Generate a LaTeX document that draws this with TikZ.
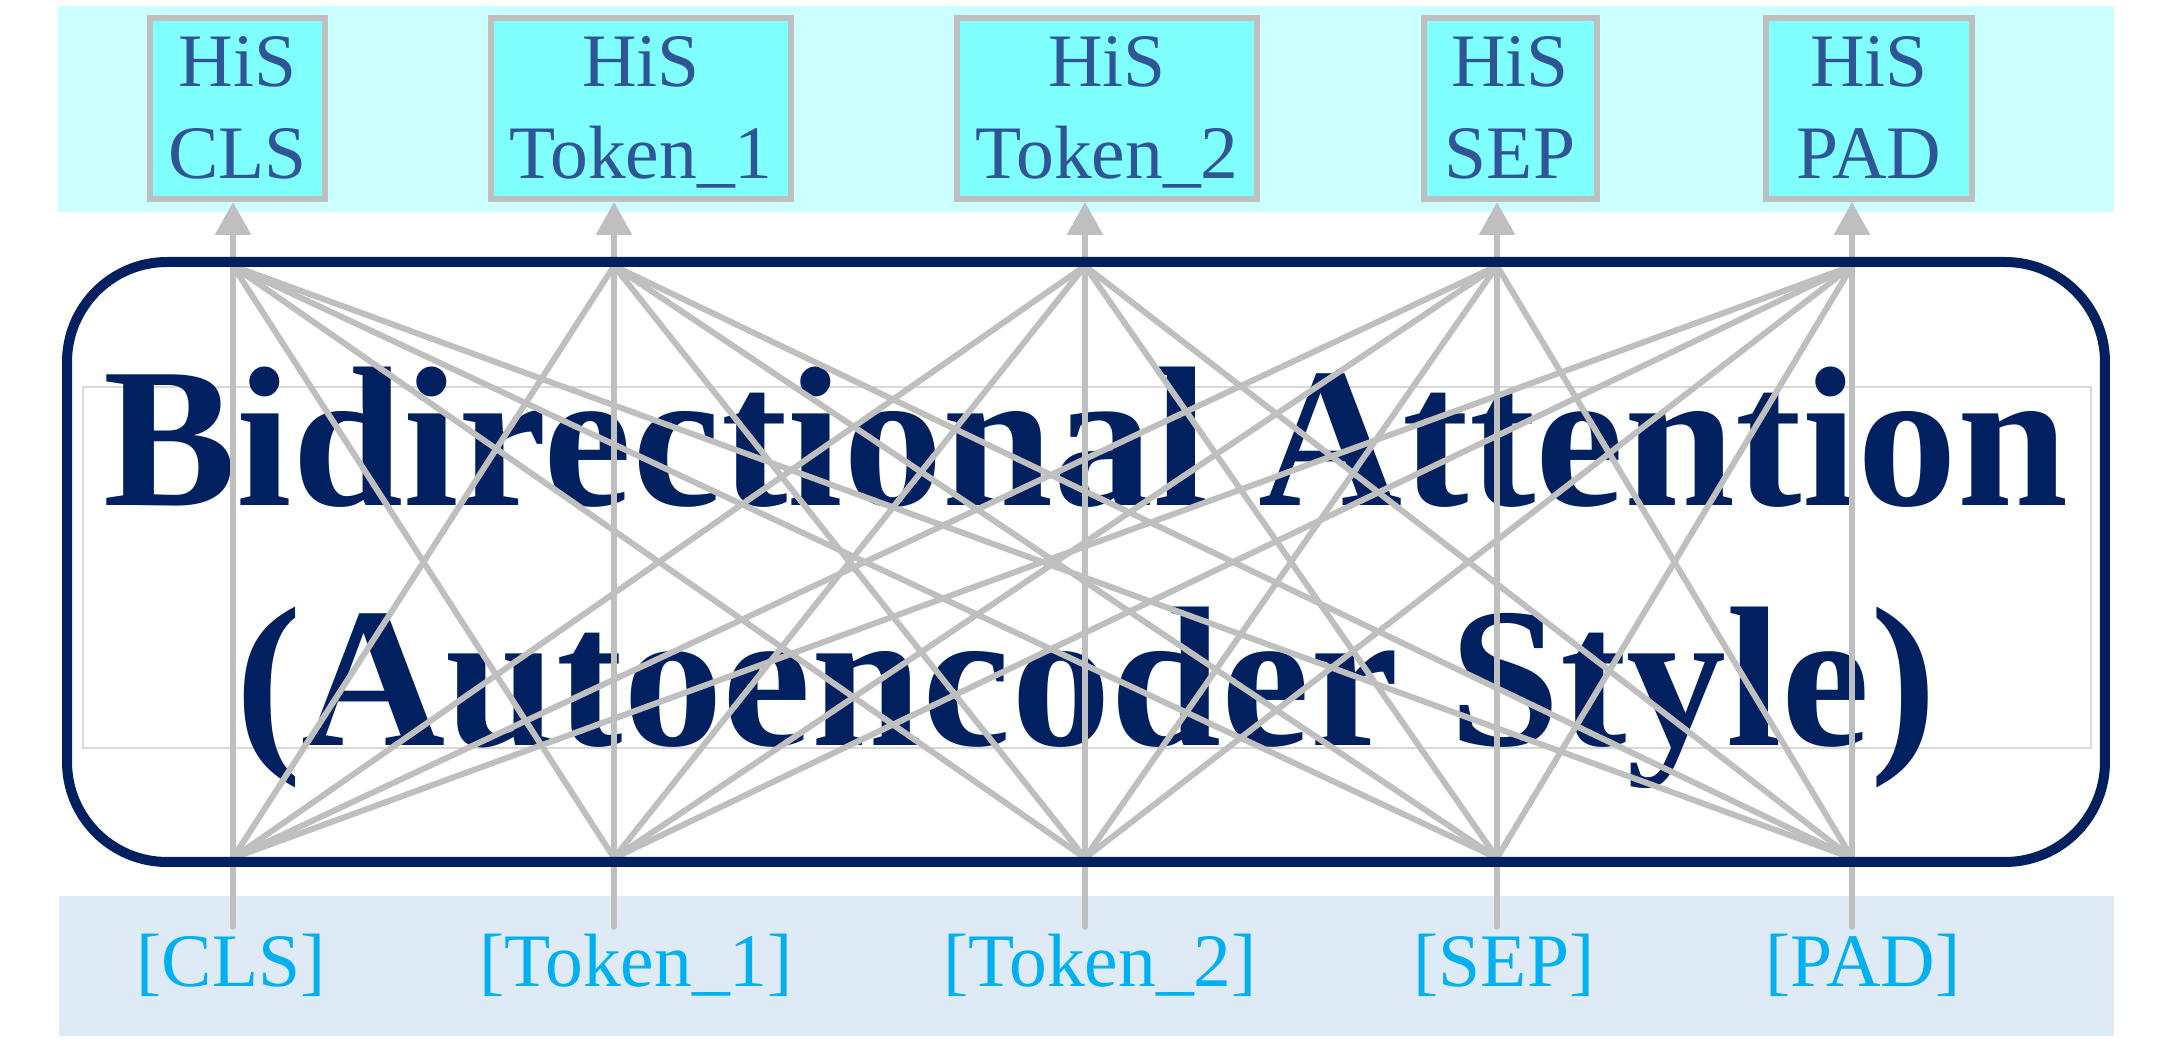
\documentclass[tikz,border=0pt]{standalone}
\usepackage{fontspec}
\setmainfont{Liberation Serif}
\usetikzlibrary{arrows.meta}

\begin{document}
\begin{tikzpicture}[x=0.1mm,y=-0.1mm]
        %colores
        \definecolor{bandaarriba}{HTML}{CCFFFF}
        \definecolor{cajahis}{HTML}{80FFFF}
        \definecolor{gris}{HTML}{BFBFBF}
        \definecolor{textohis}{HTML}{2F5597}
        \definecolor{marino}{HTML}{002060}
        \definecolor{bandaabajo}{HTML}{DEEBF7}
        \definecolor{textotok}{HTML}{00B0F0}
        \tikzset{
            hisbox/.style={draw=gris,line width=0.6mm,fill=cajahis,text=textohis,
                font=\fontsize{21.5}{26.2}\selectfont,align=center,inner sep=0pt,minimum height=18.1mm},
            toklabel/.style={text=textotok,font=\fontsize{21.5}{26}\selectfont,inner sep=0.7mm,anchor=base},
            fan/.style={gris,line width=0.6mm}
        }
        \useasboundingbox (0,0) rectangle (2173,1042);

        % Bandas de fondo
        \fill[bandaarriba] (58,6) rectangle (2114,212);
        \fill[bandaabajo] (59,896) rectangle (2114,1036);

        % Recuadro y titulo
        \node (recuadro) [draw=gris!60,line width=0.15mm,minimum width=200.8mm,minimum height=36.1mm] at (1087,567.5) {};
        \node (titulo) [text=marino,font=\fontsize{56.8}{68.3}\selectfont\bfseries,align=center,inner sep=0pt]
            at (1086,578) {Bidirectional Attention\\(Autoencoder Style)};

        % Columnas: puntos, cajas HiS y etiquetas
        \foreach \n/\x/\hx/\lx/\w/\his/\tok in {1/233/237.5/231/17.5/CLS/{[CLS]},
            2/614/641/636/30/Token\_1/{[Token\_1]},3/1085/1107/1100/30/Token\_2/{[Token\_2]},
            4/1497/1510/1504/17.3/SEP/{[SEP]},5/1852/1869/1863/20.6/PAD/{[PAD]}}
        {
            \coordinate (t\n) at (\x,266);
            \coordinate (b\n) at (\x,858);
            \node (his\n) [hisbox,minimum width=\w mm] at (\hx,108.5) {\strut HiS\\\his\vphantom{g}};
            \node (tok\n) [toklabel] at (\lx,987) {\tok};
        }

        % Atencion bidireccional
        \foreach \i in {1,...,5}
            \foreach \j in {1,...,5}
                \draw[fan] (b\i) -- (t\j);
        \foreach \n in {1,...,5}{
            \draw[fan,-{Triangle[width=3.5mm,length=3.3mm]}] (t\n) -- (t\n |- his\n.south);
            \draw[fan,line cap=round] (b\n) -- (b\n |- tok\n.north);
        }

        % Caja redondeada
        \node (caja) [draw=marino,line width=1mm,rounded corners=10mm,minimum width=203.8mm,minimum height=60mm] at (1086,562) {};
    \end{tikzpicture}
\end{document}
